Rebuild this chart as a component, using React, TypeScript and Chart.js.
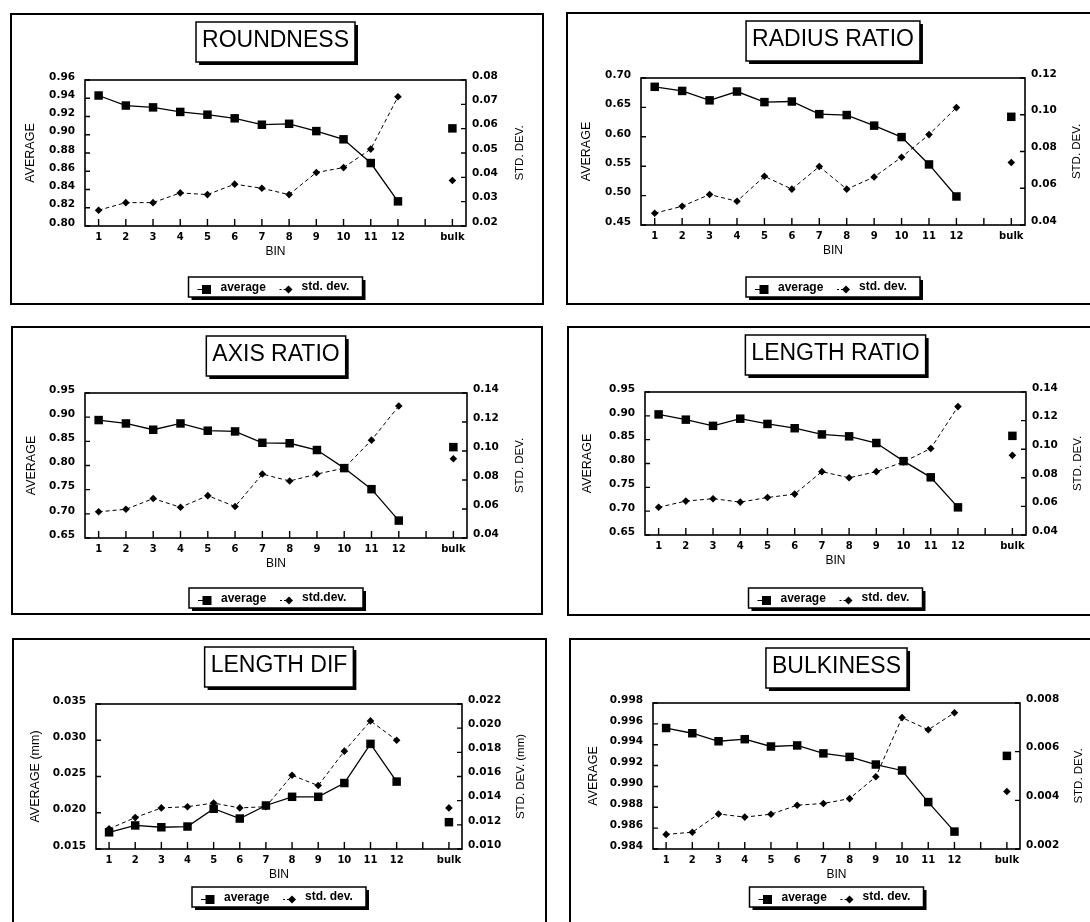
import React, { useEffect, useRef } from "react";
import { Chart, registerables } from "chart.js";

Chart.register(...registerables);

// ---------- categories / labels ----------
const BINS = ["1", "2", "3", "4", "5", "6", "7", "8", "9", "10", "11", "12"];
const GAP_LABEL = "";
const BULK_LABEL = "bulk";
const X_TITLE = "BIN";
const LEGEND_AVG = "average";

// ---------- ROUNDNESS ----------
const roundnessAvg = [0.943, 0.932, 0.930, 0.925, 0.922, 0.918, 0.911, 0.912, 0.904, 0.895, 0.869, 0.827];
const roundnessAvgBulk = 0.907;
const roundnessStd = [0.0265, 0.0296, 0.0296, 0.0336, 0.0329, 0.0372, 0.0355, 0.0329, 0.042, 0.044, 0.0516, 0.0731];
const roundnessStdBulk = 0.0387;
const roundnessAvgTicks = [0.80, 0.96, 0.02];
const roundnessStdTicks = [0.02, 0.08, 0.01];

// ---------- RADIUS RATIO ----------
const radiusAvg = [0.685, 0.678, 0.662, 0.677, 0.659, 0.660, 0.6385, 0.637, 0.619, 0.5995, 0.553, 0.4985];
const radiusAvgBulk = 0.634;
const radiusStd = [0.0464, 0.0502, 0.0566, 0.0529, 0.0665, 0.0595, 0.0718, 0.0595, 0.0661, 0.0769, 0.0892, 0.1039];
const radiusStdBulk = 0.074;
const radiusAvgTicks = [0.45, 0.70, 0.05];
const radiusStdTicks = [0.04, 0.12, 0.02];

// ---------- AXIS RATIO ----------
const axisAvg = [0.894, 0.887, 0.874, 0.887, 0.872, 0.8705, 0.847, 0.846, 0.832, 0.7946, 0.751, 0.686];
const axisAvgBulk = 0.838;
const axisStd = [0.0581, 0.0598, 0.0672, 0.0612, 0.0692, 0.0617, 0.0841, 0.0793, 0.0841, 0.0882, 0.1075, 0.131];
const axisStdBulk = 0.0947;
const axisAvgTicks = [0.65, 0.95, 0.05];
const axisStdTicks = [0.04, 0.14, 0.02];

// ---------- LENGTH RATIO ----------
const lengthRatioAvg = [0.903, 0.892, 0.879, 0.894, 0.883, 0.874, 0.861, 0.857, 0.843, 0.805, 0.771, 0.708];
const lengthRatioAvgBulk = 0.858;
const lengthRatioStd = [0.0594, 0.0637, 0.0654, 0.063, 0.0662, 0.0686, 0.0843, 0.080, 0.0843, 0.0911, 0.1005, 0.1298];
const lengthRatioStdBulk = 0.0957;
const lengthRatioAvgTicks = [0.65, 0.95, 0.05];
const lengthRatioStdTicks = [0.04, 0.14, 0.02];

// ---------- LENGTH DIF ----------
const lengthDifAvg = [0.0173, 0.01825, 0.018, 0.0181, 0.02055, 0.0192, 0.021, 0.0222, 0.0222, 0.0241, 0.0295, 0.0243];
const lengthDifAvgBulk = 0.0187;
const lengthDifStd = [0.01167, 0.0126, 0.0134, 0.0135, 0.0138, 0.0134, 0.0135, 0.0161, 0.01525, 0.0181, 0.0206, 0.019];
const lengthDifStdBulk = 0.0134;
const lengthDifAvgTicks = [0.015, 0.035, 0.005];
const lengthDifStdTicks = [0.010, 0.022, 0.002];

// ---------- BULKINESS ----------
const bulkinessAvg = [0.9956, 0.9951, 0.99433, 0.99453, 0.99383, 0.99393, 0.99317, 0.99283, 0.9921, 0.99153, 0.9885, 0.98567];
const bulkinessAvgBulk = 0.99293;
const bulkinessStd = [0.0026, 0.00269, 0.00344, 0.00331, 0.00343, 0.0038, 0.00387, 0.00407, 0.00497, 0.0074, 0.0069, 0.0076];
const bulkinessStdBulk = 0.00436;
const bulkinessAvgTicks = [0.984, 0.998, 0.002];
const bulkinessStdTicks = [0.002, 0.008, 0.002];

type Spec = {
  title: string;
  avgTitle: string;
  stdTitle: string;
  stdLegend: string;
  avg: number[];
  avgBulk: number;
  std: number[];
  stdBulk: number;
  avgTicks: number[];
  stdTicks: number[];
  avgDec: number;
  stdDec: number;
};

const SPECS: Spec[] = [
  { title: "ROUNDNESS", avgTitle: "AVERAGE", stdTitle: "STD. DEV.", stdLegend: "std. dev.",
    avg: roundnessAvg, avgBulk: roundnessAvgBulk, std: roundnessStd, stdBulk: roundnessStdBulk,
    avgTicks: roundnessAvgTicks, stdTicks: roundnessStdTicks, avgDec: 2, stdDec: 2 },
  { title: "RADIUS RATIO", avgTitle: "AVERAGE", stdTitle: "STD. DEV.", stdLegend: "std. dev.",
    avg: radiusAvg, avgBulk: radiusAvgBulk, std: radiusStd, stdBulk: radiusStdBulk,
    avgTicks: radiusAvgTicks, stdTicks: radiusStdTicks, avgDec: 2, stdDec: 2 },
  { title: "AXIS RATIO", avgTitle: "AVERAGE", stdTitle: "STD. DEV.", stdLegend: "std.dev.",
    avg: axisAvg, avgBulk: axisAvgBulk, std: axisStd, stdBulk: axisStdBulk,
    avgTicks: axisAvgTicks, stdTicks: axisStdTicks, avgDec: 2, stdDec: 2 },
  { title: "LENGTH RATIO", avgTitle: "AVERAGE", stdTitle: "STD. DEV.", stdLegend: "std. dev.",
    avg: lengthRatioAvg, avgBulk: lengthRatioAvgBulk, std: lengthRatioStd, stdBulk: lengthRatioStdBulk,
    avgTicks: lengthRatioAvgTicks, stdTicks: lengthRatioStdTicks, avgDec: 2, stdDec: 2 },
  { title: "LENGTH DIF", avgTitle: "AVERAGE (mm)", stdTitle: "STD. DEV. (mm)", stdLegend: "std. dev.",
    avg: lengthDifAvg, avgBulk: lengthDifAvgBulk, std: lengthDifStd, stdBulk: lengthDifStdBulk,
    avgTicks: lengthDifAvgTicks, stdTicks: lengthDifStdTicks, avgDec: 3, stdDec: 3 },
  { title: "BULKINESS", avgTitle: "AVERAGE", stdTitle: "STD. DEV.", stdLegend: "std. dev.",
    avg: bulkinessAvg, avgBulk: bulkinessAvgBulk, std: bulkinessStd, stdBulk: bulkinessStdBulk,
    avgTicks: bulkinessAvgTicks, stdTicks: bulkinessStdTicks, avgDec: 3, stdDec: 3 },
];

// ---------- layout (page px) ----------
type Layout = {
  box: { x: number; y: number; w: number; h: number };
  plot: { l: number; r: number; t: number; b: number };
  titleTop: number;
  legendTop: number;
  avgTitleX: number;
  stdTitleX: number;
};

const LAYOUTS: Layout[] = [
  { box: { x: 10, y: 13, w: 534, h: 292 }, plot: { l: 85, r: 466, t: 80, b: 226 }, titleTop: 22, legendTop: 277, avgTitleX: 31, stdTitleX: 520 },
  { box: { x: 566, y: 12, w: 532, h: 293 }, plot: { l: 641, r: 1025, t: 78, b: 225 }, titleTop: 21, legendTop: 277, avgTitleX: 587, stdTitleX: 1077 },
  { box: { x: 11, y: 326, w: 532, h: 289 }, plot: { l: 85, r: 467, t: 393, b: 538 }, titleTop: 336, legendTop: 588, avgTitleX: 32, stdTitleX: 520 },
  { box: { x: 567, y: 326, w: 532, h: 290 }, plot: { l: 645, r: 1026, t: 392, b: 535 }, titleTop: 335, legendTop: 588, avgTitleX: 588, stdTitleX: 1078 },
  { box: { x: 12, y: 638, w: 535, h: 300 }, plot: { l: 96, r: 462, t: 704, b: 849 }, titleTop: 647, legendTop: 887, avgTitleX: 36, stdTitleX: 521 },
  { box: { x: 569, y: 638, w: 532, h: 300 }, plot: { l: 653, r: 1020, t: 703, b: 849 }, titleTop: 648, legendTop: 887, avgTitleX: 594, stdTitleX: 1079 },
];

const BORDER = 2;
const FONT_SANS = "'Liberation Sans', Arial, sans-serif";
const FONT_TICK = "'DejaVu Sans', sans-serif";

function Panel({ spec, layout }: { spec: Spec; layout: Layout }) {
  const ref = useRef<HTMLCanvasElement | null>(null);
  const ox = layout.box.x + BORDER;
  const oy = layout.box.y + BORDER;
  const cw = layout.box.w - 2 * BORDER;
  const ch = layout.box.h - 2 * BORDER;

  useEffect(() => {
    const canvas = ref.current;
    if (!canvas) return;
    const labels = [...BINS, GAP_LABEL, BULK_LABEL];
    const avgData = [...spec.avg, null, spec.avgBulk];
    const stdData = [...spec.std, null, spec.stdBulk];

    const deco = {
      id: "deco",
      afterDraw(chart: any) {
        const ctx = chart.ctx as CanvasRenderingContext2D;
        const a = chart.chartArea;
        const xs = chart.scales.x;
        const ya = chart.scales.yAvg;
        const ys = chart.scales.yStd;
        ctx.save();
        ctx.strokeStyle = "#000";
        ctx.fillStyle = "#000";
        // frame
        ctx.lineWidth = 1.6;
        ctx.strokeRect(a.left, a.top, a.right - a.left, a.bottom - a.top);
        // inward ticks
        ctx.lineWidth = 1.4;
        ctx.beginPath();
        for (let i = 0; i < labels.length; i++) {
          const px = xs.getPixelForValue(i);
          ctx.moveTo(px, a.bottom);
          ctx.lineTo(px, a.bottom - 7);
        }
        ya.ticks.forEach((t: any) => {
          const py = ya.getPixelForValue(t.value);
          ctx.moveTo(a.left, py);
          ctx.lineTo(a.left + 5, py);
        });
        ys.ticks.forEach((t: any) => {
          const py = ys.getPixelForValue(t.value);
          ctx.moveTo(a.right, py);
          ctx.lineTo(a.right - 5, py);
        });
        ctx.stroke();

        const midY = (a.top + a.bottom) / 2;
        const midX = (a.left + a.right) / 2;
        // axis titles (both read bottom-to-top)
        ctx.font = `12.5px ${FONT_SANS}`;
        ctx.textAlign = "center";
        ctx.textBaseline = "middle";
        ctx.save();
        ctx.translate(layout.avgTitleX - ox, midY);
        ctx.rotate(-Math.PI / 2);
        ctx.fillText(spec.avgTitle, 0, 0);
        ctx.restore();
        ctx.font = `11.5px ${FONT_SANS}`;
        ctx.save();
        ctx.translate(layout.stdTitleX - ox, midY);
        ctx.rotate(-Math.PI / 2);
        ctx.fillText(spec.stdTitle, 0, 0);
        ctx.restore();

        // BIN
        ctx.font = `12px ${FONT_SANS}`;
        ctx.fillText(X_TITLE, midX, a.bottom + 26);

        // title box
        ctx.font = `23px ${FONT_SANS}`;
        const tw = ctx.measureText(spec.title).width;
        const bw = tw + 12;
        const bh = 40;
        const bx = midX - bw / 2;
        const by = layout.titleTop - oy;
        ctx.fillStyle = "#000";
        ctx.fillRect(bx + 3, by + 3, bw, bh);
        ctx.fillStyle = "#fff";
        ctx.fillRect(bx, by, bw, bh);
        ctx.lineWidth = 1.5;
        ctx.strokeRect(bx, by, bw, bh);
        ctx.fillStyle = "#000";
        ctx.textAlign = "left";
        ctx.textBaseline = "alphabetic";
        ctx.fillText(spec.title, bx + 6, by + 25);

        // legend box
        const lw = 174;
        const lh = 20;
        const lx = midX - lw / 2;
        const ly = layout.legendTop - oy;
        ctx.fillRect(lx + 3, ly + 3, lw, lh);
        ctx.fillStyle = "#fff";
        ctx.fillRect(lx, ly, lw, lh);
        ctx.strokeRect(lx, ly, lw, lh);
        ctx.fillStyle = "#000";
        const my = ly + 12.5;
        // average marker
        const m1 = lx + 18;
        ctx.lineWidth = 1;
        ctx.beginPath();
        ctx.moveTo(m1 - 9, my);
        ctx.lineTo(m1, my);
        ctx.stroke();
        ctx.fillRect(m1 - 4.5, my - 4.5, 9, 9);
        ctx.font = `bold 12px ${FONT_SANS}`;
        ctx.textBaseline = "alphabetic";
        ctx.fillText(LEGEND_AVG, lx + 32, ly + 13.5);
        // std marker
        const m2 = lx + 100;
        ctx.setLineDash([2, 2]);
        ctx.beginPath();
        ctx.moveTo(m2 - 9, my);
        ctx.lineTo(m2, my);
        ctx.stroke();
        ctx.setLineDash([]);
        ctx.beginPath();
        ctx.moveTo(m2, my - 4);
        ctx.lineTo(m2 + 4, my);
        ctx.lineTo(m2, my + 4);
        ctx.lineTo(m2 - 4, my);
        ctx.closePath();
        ctx.fill();
        ctx.fillText(spec.stdLegend, lx + 113, ly + 13);
        ctx.restore();
      },
    };

    const tickFont = { family: FONT_TICK, weight: "bold" as const, size: 10.5 };
    const chart = new Chart(canvas, {
      type: "line",
      data: {
        labels,
        datasets: [
          {
            label: LEGEND_AVG,
            data: avgData,
            yAxisID: "yAvg",
            borderColor: "#000",
            backgroundColor: "#000",
            borderWidth: 1.3,
            pointStyle: "rect",
            pointRadius: 6,
            pointBorderWidth: 0,
            pointBackgroundColor: "#000",
            spanGaps: false,
            tension: 0,
          },
          {
            label: spec.stdLegend,
            data: stdData,
            yAxisID: "yStd",
            borderColor: "#000",
            backgroundColor: "#000",
            borderWidth: 1,
            borderDash: [4, 3],
            pointStyle: "rectRot",
            pointRadius: 3.8,
            pointBorderWidth: 0,
            pointBackgroundColor: "#000",
            spanGaps: false,
            tension: 0,
          },
        ],
      },
      options: {
        animation: false,
        responsive: false,
        maintainAspectRatio: false,
        devicePixelRatio: 1,
        layout: { padding: { top: layout.plot.t - oy, left: 0, right: 0, bottom: 0 } },
        plugins: { legend: { display: false }, title: { display: false }, tooltip: { enabled: false } },
        scales: {
          x: {
            type: "category",
            offset: true,
            grid: { display: false, drawTicks: false },
            border: { display: false },
            ticks: { autoSkip: false, maxRotation: 0, minRotation: 0, color: "#000", font: { ...tickFont, size: 10 }, padding: 5 },
            afterFit: (s: any) => { s.height = oy + ch - layout.plot.b; },
          },
          yAvg: {
            type: "linear",
            position: "left",
            min: spec.avgTicks[0],
            max: spec.avgTicks[1],
            grid: { display: false, drawTicks: false },
            border: { display: false },
            ticks: {
              stepSize: spec.avgTicks[2],
              color: "#000",
              font: tickFont,
              padding: 10,
              labelOffset: -3,
              callback: (v: any) => Number(v).toFixed(spec.avgDec),
            },
            afterFit: (s: any) => { s.width = layout.plot.l - ox; },
          },
          yStd: {
            type: "linear",
            position: "right",
            min: spec.stdTicks[0],
            max: spec.stdTicks[1],
            grid: { display: false, drawTicks: false },
            border: { display: false },
            ticks: {
              stepSize: spec.stdTicks[2],
              color: "#000",
              font: tickFont,
              padding: 6,
              labelOffset: -4,
              callback: (v: any) => Number(v).toFixed(spec.stdDec),
            },
            afterFit: (s: any) => { s.width = ox + cw - layout.plot.r; },
          },
        },
      } as any,
      plugins: [deco],
    });
    return () => chart.destroy();
  }, [spec, layout]);

  return (
    <div
      style={{
        position: "absolute",
        left: layout.box.x,
        top: layout.box.y,
        width: layout.box.w,
        height: layout.box.h,
        border: `${BORDER}px solid #000`,
        boxSizing: "border-box",
        background: "#fff",
      }}
    >
      <canvas ref={ref} width={cw} height={ch} style={{ display: "block", width: cw, height: ch }} />
    </div>
  );
}

export default function App() {
  return (
    <div
      style={{
        position: "fixed",
        left: 0,
        top: 0,
        width: 1090,
        height: 922,
        overflow: "hidden",
        background: "#fff",
      }}
    >
      {SPECS.map((s, i) => (
        <Panel key={s.title} spec={s} layout={LAYOUTS[i]} />
      ))}
    </div>
  );
}
